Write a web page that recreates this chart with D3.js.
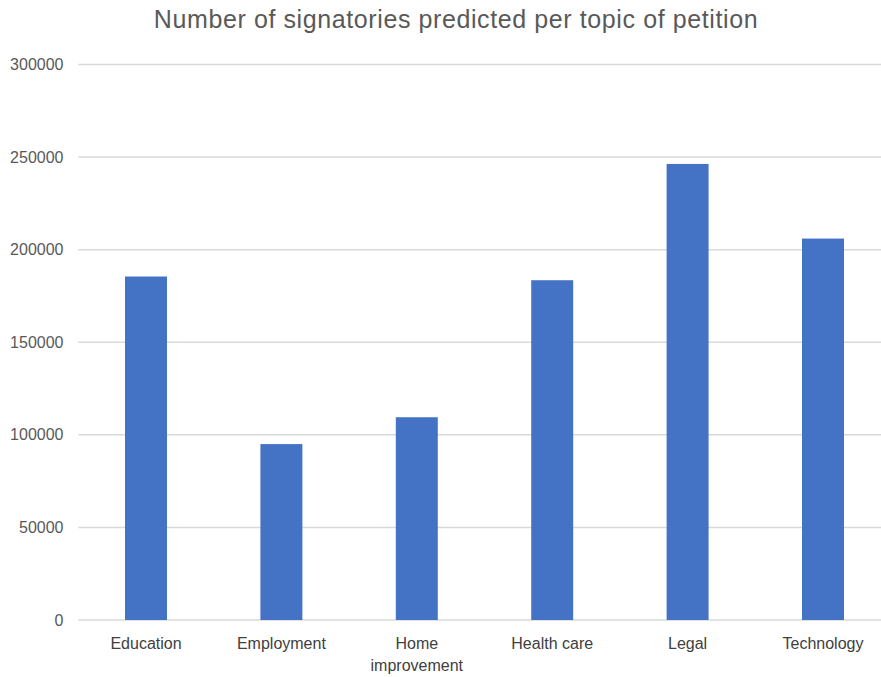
<!DOCTYPE html>
<html>
<head>
<meta charset="utf-8">
<script src="https://cdn.jsdelivr.net/npm/d3@7"></script>
<style>
  html, body { margin: 0; padding: 0; background: #ffffff; }
  svg { display: block; font-family: "Liberation Sans", Arial, sans-serif; }
</style>
</head>
<body>
<svg id="chart" width="881" height="677"></svg>
<script>
const categories = ["Education", "Employment", "Home improvement", "Health care", "Legal", "Technology"];
const values = [185500, 95000, 109500, 183500, 246300, 206000];
const yTicks = [0, 50000, 100000, 150000, 200000, 250000, 300000];
const title = "Number of signatories predicted per topic of petition";

const svg = d3.select("#chart");
const W = 881, H = 677;
const plot = { left: 78.3, right: 890.7, top: 64.5, bottom: 620 };

const x = d3.scaleBand()
  .domain(categories)
  .range([plot.left, plot.right])
  .paddingInner(0.69)
  .paddingOuter(0.345);

const y = d3.scaleLinear()
  .domain([0, 300000])
  .range([plot.bottom, plot.top]);

// gridlines
svg.append("g")
  .selectAll("line")
  .data(yTicks)
  .join("line")
  .attr("x1", plot.left)
  .attr("x2", W)
  .attr("y1", d => y(d))
  .attr("y2", d => y(d))
  .attr("stroke", "#d9d9d9")
  .attr("stroke-width", 1.5);

// y tick labels
svg.append("g")
  .selectAll("text")
  .data(yTicks)
  .join("text")
  .attr("x", 63.5)
  .attr("y", d => y(d))
  .attr("dy", "0.35em")
  .attr("text-anchor", "end")
  .attr("font-size", 16)
  .attr("fill", "#595959")
  .text(d => d);

// bars
svg.append("g")
  .selectAll("rect")
  .data(categories)
  .join("rect")
  .attr("x", d => x(d))
  .attr("width", x.bandwidth())
  .attr("y", (d, i) => y(values[i]))
  .attr("height", (d, i) => y(0) - y(values[i]))
  .attr("fill", "#4472c4");

// category labels (wrapped)
const wrapMap = { "Home improvement": ["Home", "improvement"] };
const labels = svg.append("g")
  .selectAll("text")
  .data(categories)
  .join("text")
  .attr("x", d => x(d) + x.bandwidth() / 2)
  .attr("y", 649)
  .attr("text-anchor", "middle")
  .attr("font-size", 16)
  .attr("fill", "#404040");
labels.each(function(d) {
  const lines = wrapMap[d] || [d];
  const t = d3.select(this);
  lines.forEach((ln, i) => {
    t.append("tspan")
      .attr("x", x(d) + x.bandwidth() / 2)
      .attr("dy", i === 0 ? 0 : 22)
      .text(ln);
  });
});

// title
svg.append("text")
  .attr("x", 456)
  .attr("y", 28)
  .attr("text-anchor", "middle")
  .attr("font-size", 25)
  .attr("letter-spacing", 0.6)
  .attr("fill", "#595959")
  .text(title);
</script>
</body>
</html>
